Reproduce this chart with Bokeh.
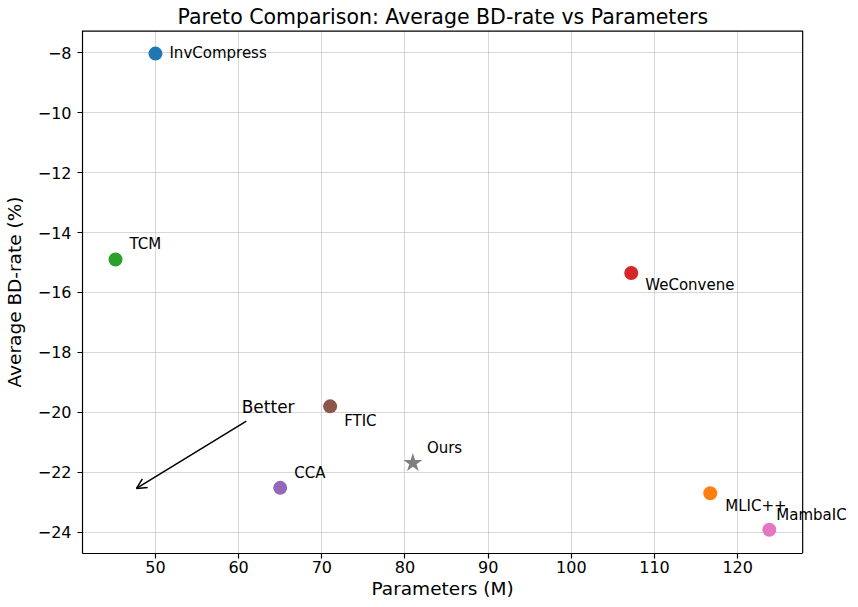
from bokeh.plotting import figure
from bokeh.models import (ColumnDataSource, Range1d, FixedTicker, Arrow, OpenHead, Label,
                          BoxAnnotation, Title)
from bokeh.embed import file_html
from bokeh.resources import INLINE

# ---- data ----
methods = ["InvCompress", "TCM", "WeConvene", "FTIC", "CCA", "MLIC++", "MambaIC"]
params = [50.0, 45.2, 107.2, 71.0, 65.0, 116.7, 123.8]
bdrate = [-8.03, -14.9, -15.35, -19.8, -22.52, -22.7, -23.92]
colors = ["#1f77b4", "#2ca02c", "#d62728", "#8c564b", "#9467bd", "#ff7f0e", "#e377c2"]

ours_name = ["Ours"]
ours_params = [80.95]
ours_bdrate = [-21.69]

x_ticks = [50, 60, 70, 80, 90, 100, 110, 120]
y_ticks = [-24, -22, -20, -18, -16, -14, -12, -10, -8]

title_text = "Pareto Comparison: Average BD-rate vs Parameters"
x_label = "Parameters (M)"
y_label = "Average BD-rate (%)"

arrow_from = (60.93, -20.29)
arrow_to = (47.72, -22.54)
better_text = "Better"
better_pos = (60.37, -19.82)

# ---- axes extents ----
X0, X1 = 41.23, 127.81      # visible axes box
Y0, Y1 = -24.71, -7.26
X_EXT = 133.56               # extra room so the MambaIC label can spill past the box

# ---- label placement (screen px offsets, +down) ----
label_dx = [14, 14, 14, 14, 14, 15, 7]
label_dy = [-1, -15, 12.5, 15, -15, 12.5, -15]
ours_dx, ours_dy = 14, -15

FONT = "DejaVu Sans"

p = figure(width=850, height=598, output_backend="svg", toolbar_location=None,
           x_range=Range1d(X0, X_EXT), y_range=Range1d(Y0, Y1),
           min_border_left=79, min_border_right=0, min_border_top=23, min_border_bottom=40)

p.add_layout(Title(text=title_text, align="left", offset=95, text_font=FONT,
                   text_font_size="20.5px", text_font_style="normal", text_color="black",
                   standoff=4), "above")

p.outline_line_color = None

for ax in (p.xaxis[0], p.yaxis[0]):
    ax.axis_line_color = "black"
    ax.axis_line_width = 1.2
    ax.major_tick_line_color = "black"
    ax.major_tick_line_width = 1.2
    ax.major_tick_out = 5
    ax.major_tick_in = 0
    ax.minor_tick_line_color = None
    ax.major_label_text_font = FONT
    ax.major_label_text_font_size = "16px"
    ax.major_label_text_color = "black"
    ax.axis_label_text_font = FONT
    ax.axis_label_text_font_size = "18.5px"
    ax.axis_label_text_font_style = "normal"
    ax.axis_label_text_color = "black"

p.xaxis.bounds = (X0, X1)
p.xaxis.major_label_standoff = 2
p.yaxis.major_label_standoff = 6
p.xaxis.ticker = FixedTicker(ticks=x_ticks)
p.yaxis.ticker = FixedTicker(ticks=y_ticks)
p.yaxis.major_label_overrides = {t: ("\u2212" + str(abs(t))) if t < 0 else str(t) for t in y_ticks}
p.yaxis.axis_label = y_label
p.yaxis.axis_label_standoff = 10

p.add_layout(Title(text=x_label, align="left", offset=289, text_font=FONT,
                   text_font_size="18.5px", text_font_style="normal", text_color="black",
                   standoff=0), "below")

p.xgrid.ticker = FixedTicker(ticks=x_ticks)
p.ygrid.ticker = FixedTicker(ticks=y_ticks)
p.grid.grid_line_color = "#b0b0b0"
p.grid.grid_line_alpha = 0.5
p.grid.grid_line_width = 1

# white mask over the extra room (hides grid lines there)
p.add_layout(BoxAnnotation(left=X1, fill_color="white", fill_alpha=1, line_color=None,
                           level="underlay"))

# top and right borders of the axes box
p.segment(x0=[X0], y0=[Y1], x1=[X1], y1=[Y1], line_color="black", line_width=2.4)
p.segment(x0=[X1], y0=[Y0], x1=[X1], y1=[Y1], line_color="black", line_width=1.2)

src = ColumnDataSource(dict(x=params, y=bdrate, name=methods, color=colors))
p.scatter("x", "y", source=src, size=14, fill_color="color", line_color=None)

osrc = ColumnDataSource(dict(x=ours_params, y=ours_bdrate, name=ours_name))
p.scatter("x", "y", source=osrc, marker="star", size=20, fill_color="#7f7f7f", line_color=None)

for name, x, y, dx, dy in zip(methods + ours_name, params + ours_params, bdrate + ours_bdrate,
                              label_dx + [ours_dx], label_dy + [ours_dy]):
    p.add_layout(Label(x=x, y=y, text=name, x_offset=dx, y_offset=-dy, level="overlay",
                       text_baseline="middle", text_align="left",
                       text_font=FONT, text_font_size="15px", text_color="black"))

p.add_layout(Arrow(end=OpenHead(size=10, line_width=1.5, line_color="black"),
                   x_start=arrow_from[0], y_start=arrow_from[1],
                   x_end=arrow_to[0], y_end=arrow_to[1],
                   line_width=1.5, line_color="black"))
p.add_layout(Label(x=better_pos[0], y=better_pos[1], text=better_text,
                   text_baseline="middle", text_align="left",
                   text_font=FONT, text_font_size="17px", text_color="black"))

open("out.html", "w").write(file_html(p, INLINE))
